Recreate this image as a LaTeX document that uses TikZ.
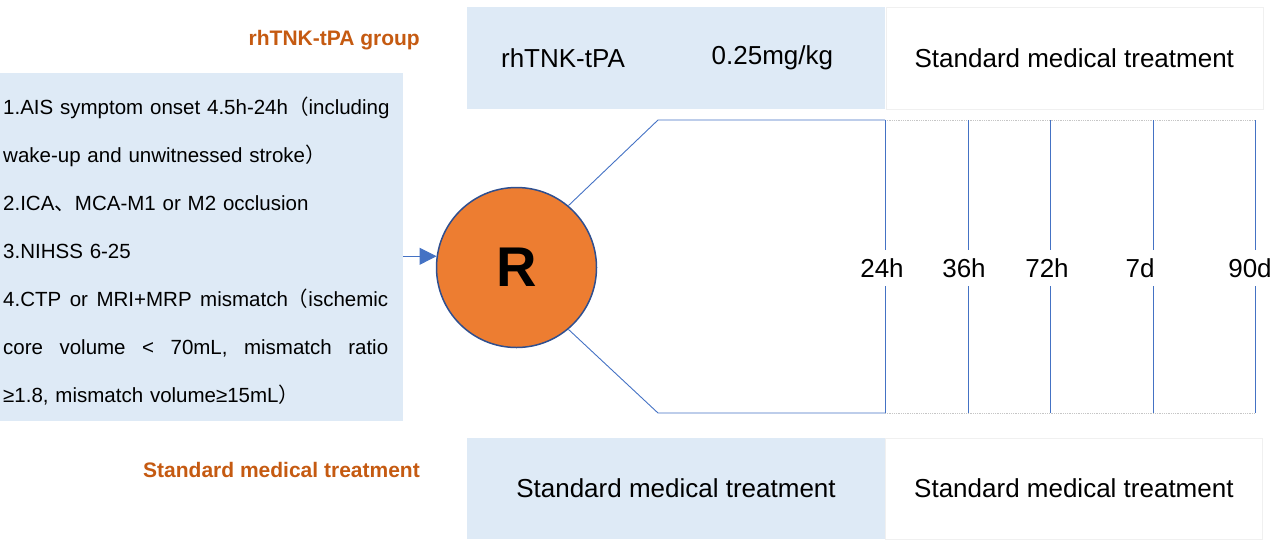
\documentclass[tikz,border=0pt]{standalone}
\usepackage{fontspec}
\setmainfont{Liberation Sans}
\newfontfamily\cjk{Noto Sans CJK SC}
\usetikzlibrary{arrows.meta,positioning}
\definecolor{paleblue}{HTML}{DEEAF6}
\definecolor{lineblue}{HTML}{4472C4}
\definecolor{rorange}{HTML}{ED7D31}
\definecolor{rborder}{HTML}{2F4F8F}
\definecolor{grouptext}{HTML}{C55A11}
\newcommand{\fullline}[1]{\makebox[385pt][s]{\spaceskip=.28em plus 1fil\relax #1}}

\begin{document}
\begin{tikzpicture}[x=1pt,y=-1pt]
   \tikzstyle{cell}=[minimum height=102pt, inner sep=0pt, font=\fontsize{26}{30}\selectfont]
   \tikzstyle{bluecell}=[cell, fill=paleblue]
   \tikzstyle{whitecell}=[cell, draw=gray!12, fill=white]
   \tikzstyle{group}=[anchor=east, inner sep=0pt, text=grouptext, font=\bfseries\fontsize{21}{25}\selectfont]
   \tikzstyle{branch}=[draw=lineblue, line width=0.9pt]
   \tikzstyle{visit}=[inner sep=0pt, font=\fontsize{26}{30}\selectfont]

   \useasboundingbox (0,0) rectangle (1280,542);

   % inclusion criteria
   \node[fill=paleblue, minimum width=403pt, minimum height=348pt, inner sep=0pt, anchor=north west] (crit) at (0,73) {};
   \node[anchor=west, text width=395pt, align=left, inner sep=0pt, font=\fontsize{20.5}{48}\selectfont] (critext) at (3,251) {%
      1.AIS symptom onset 4.5h-24h{\cjk （}including\\
      wake-up and unwitnessed stroke{\cjk ）}\\
      2.ICA{\cjk 、}MCA-M1 or M2 occlusion\\
      3.NIHSS 6-25\\
      \fullline{4.CTP or MRI+MRP mismatch{\cjk （}ischemic}\\
      \fullline{core volume < 70mL, mismatch ratio}\\
      ≥1.8, mismatch volume≥15mL{\cjk ）}};

   % randomisation
   \node[circle, fill=rorange, draw=rborder, line width=1.5pt, minimum size=160pt, inner sep=0pt,
         font=\bfseries\fontsize{56}{60}\selectfont] (R) at (516.5,267.5) {R};
   \draw[draw=lineblue, line width=1pt, -{Triangle[length=17pt,width=17pt]}] (crit.east |- R.172) -- (R.172);

   % arms
   \coordinate (upcorner) at (658,120);
   \coordinate (upend) at (885,120);
   \coordinate (upfar) at (1255,120);
   \coordinate (lowcorner) at (658,413);
   \coordinate (lowend) at (885,413);
   \coordinate (lowfar) at (1255,413);
   \draw[branch] (R.50) -- (upcorner) -- (upend);
   \draw[branch] (R.-50) -- (lowcorner) -- (lowend);
   \draw[densely dotted, gray!45, line width=0.8pt] (upend) -- (upfar) (lowend) -- (lowfar);

   % follow-up time points
   \foreach \x/\lx/\t in {885/882/24h, 968/964/36h, 1050/1047/72h, 1153/1140/7d, 1255/1250/90d} {
      \draw[branch] (\x,120) -- (\x,250) (\x,286) -- (\x,413);
      \node[visit] at (\lx,268) {\t};
   }

   % treatment rows
   \node[bluecell, minimum width=192pt] (drug) at (563,58) {rhTNK-tPA};
   \node[bluecell, minimum width=226pt, right=0pt of drug] (dose) {0.25mg/kg};
   \node[whitecell, minimum width=377pt, right=0pt of dose] (smtup) {Standard medical treatment};
   \node[bluecell, minimum width=418pt, minimum height=101pt] (ctrl) at (676,488.5) {Standard medical treatment};
   \node[whitecell, minimum width=377pt, minimum height=101pt, right=0pt of ctrl] (smtlow) {Standard medical treatment};

   % group labels
   \node[group] (tnkgroup) at (420,40) {rhTNK-tPA group};
   \node[group] (ctrlgroup) at (420,470) {Standard medical treatment};

\end{tikzpicture}
\end{document}
